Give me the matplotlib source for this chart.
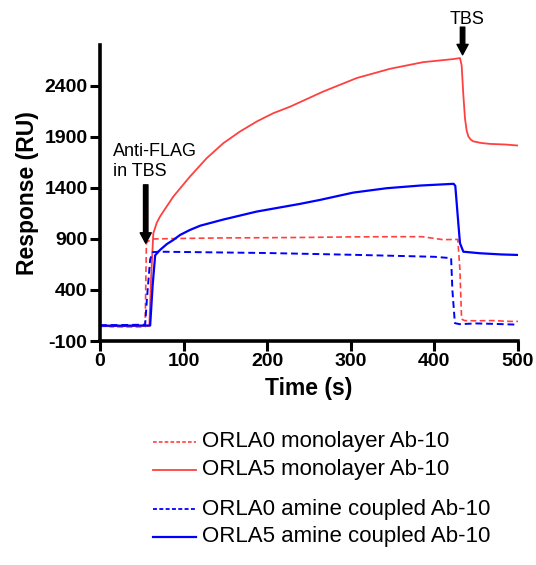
import matplotlib
matplotlib.use("Agg")
import matplotlib.pyplot as plt
from matplotlib.lines import Line2D

plt.rcParams['font.family'] = ['Liberation Sans', 'DejaVu Sans']

# ---------------- data ----------------
t_red0 = [0, 5, 8, 12, 30, 50, 54, 55.5, 58, 65, 100, 150, 200, 250, 300, 350,
          385, 400, 410, 428, 430.5, 432.5, 436, 450, 470, 490, 500]
ru_red0 = [45, 45, 60, 40, 38, 38, 40, 860, 880, 900, 905, 910, 912, 915, 920, 922,
           922, 905, 893, 895, 600, 115, 100, 98, 100, 92, 92]

t_blue0 = [0, 30, 54, 56, 60, 63, 70, 100, 200, 300, 400, 415, 420, 421.5, 424.5,
           430, 450, 470, 500]
ru_blue0 = [55, 57, 60, 300, 700, 770, 775, 772, 762, 745, 725, 715, 712, 400, 75,
            65, 72, 68, 60]

t_red5 = [0, 30, 59, 61, 63.8, 68, 71.8, 75.7, 87.7, 107.6, 127.6, 147.5, 167.4,
          187.4, 207.3, 227.2, 267, 307, 347, 386.6, 422.6, 430.6, 432.6, 434.6,
          436.6, 438.6, 440.6, 443.6, 446.6, 456, 466.5, 485, 500]
ru_red5 = [45, 45, 48, 500, 956, 1060, 1119, 1168, 1315, 1511, 1691, 1838, 1952,
           2050, 2132, 2195, 2344, 2476, 2567, 2632, 2662, 2672, 2600, 2312, 2080,
           1960, 1905, 1872, 1856, 1840, 1831, 1825, 1815]

t_blue5 = [0, 30, 60, 63, 66, 71.8, 80, 87.7, 96, 107.6, 120, 147.5, 187.4, 239,
           263, 303, 343, 383, 423, 425, 428.6, 430.6, 434.6, 454, 480, 500]
ru_blue5 = [50, 50, 52, 450, 740, 792, 850, 890, 940, 988, 1030, 1090, 1168, 1243,
            1282, 1354, 1397, 1423, 1440, 1420, 1054, 858, 775, 760, 748, 743]

x_ticks = [0, 100, 200, 300, 400, 500]
y_ticks = [-100, 400, 900, 1400, 1900, 2400]

labels = ["ORLA0 monolayer Ab-10", "ORLA5 monolayer Ab-10",
          "ORLA0 amine coupled Ab-10", "ORLA5 amine coupled Ab-10"]

RED = '#FF4040'
BLUE = '#0000FF'

# ---------------- figure ----------------
W, H = 536, 565
fig = plt.figure(figsize=(W / 100, H / 100), dpi=100)
ax = fig.add_axes([100 / W, 1 - 341 / H, 418 / W, (341 - 45) / H])

ax.plot(t_red0, ru_red0, color=RED, lw=1.2, linestyle=(0, (3.5, 2)))
ax.plot(t_red5, ru_red5, color=RED, lw=1.3)
ax.plot(t_blue0, ru_blue0, color=BLUE, lw=1.4, linestyle=(0, (3.5, 2)))
ax.plot(t_blue5, ru_blue5, color=BLUE, lw=1.6)

ax.set_xlim(0, 500)
ax.set_ylim(-100, 2800)
ax.set_xticks(x_ticks)
ax.set_yticks(y_ticks)
ax.set_xticklabels([str(v) for v in x_ticks], fontsize=14, fontweight='bold')
ax.set_yticklabels([str(v) for v in y_ticks], fontsize=14, fontweight='bold')
ax.tick_params(direction='out', length=7, width=2.2, pad=2)

for s in ['top', 'right']:
    ax.spines[s].set_visible(False)
for s in ['left', 'bottom']:
    ax.spines[s].set_linewidth(2.6)

ax.set_xlabel('Time (s)', fontsize=16.5, fontweight='bold', labelpad=5)
ax.set_ylabel('Response (RU)', fontsize=16.5, fontweight='bold', labelpad=4)

# annotations
arrow_kw = dict(facecolor='black', edgecolor='black', width=3.2, headwidth=8,
                headlength=7.5, shrink=0)
ax.annotate('', xy=(54.7, 858), xytext=(54.7, 1430), arrowprops=arrow_kw,
            annotation_clip=False)
ax.text(15.6, 1658, 'Anti-FLAG\nin TBS', fontsize=13, ha='left', va='center',
        linespacing=1.2)
ax.annotate('', xy=(433.7, 2704), xytext=(433.7, 2975), arrowprops=arrow_kw,
            annotation_clip=False)
ax.text(438.5, 3045, 'TBS', fontsize=13, ha='center', va='center', clip_on=False)

# legend (manual)
rows_py = [441.7, 470, 509, 536.7]
styles = [(RED, (0, (2.2, 1.3)), 1.2), (RED, '-', 1.3),
          (BLUE, (0, (2.2, 1.3)), 1.3), (BLUE, '-', 1.6)]
for py, lab, (c, ls, lw) in zip(rows_py, labels, styles):
    yf = 1 - py / H
    fig.add_artist(Line2D([153 / W, 196 / W], [yf, yf], color=c, linestyle=ls,
                          lw=lw, transform=fig.transFigure))
    fig.text(201.7 / W, yf, lab, fontsize=16, ha='left', va='center')

fig.savefig('out.png', dpi=100)
